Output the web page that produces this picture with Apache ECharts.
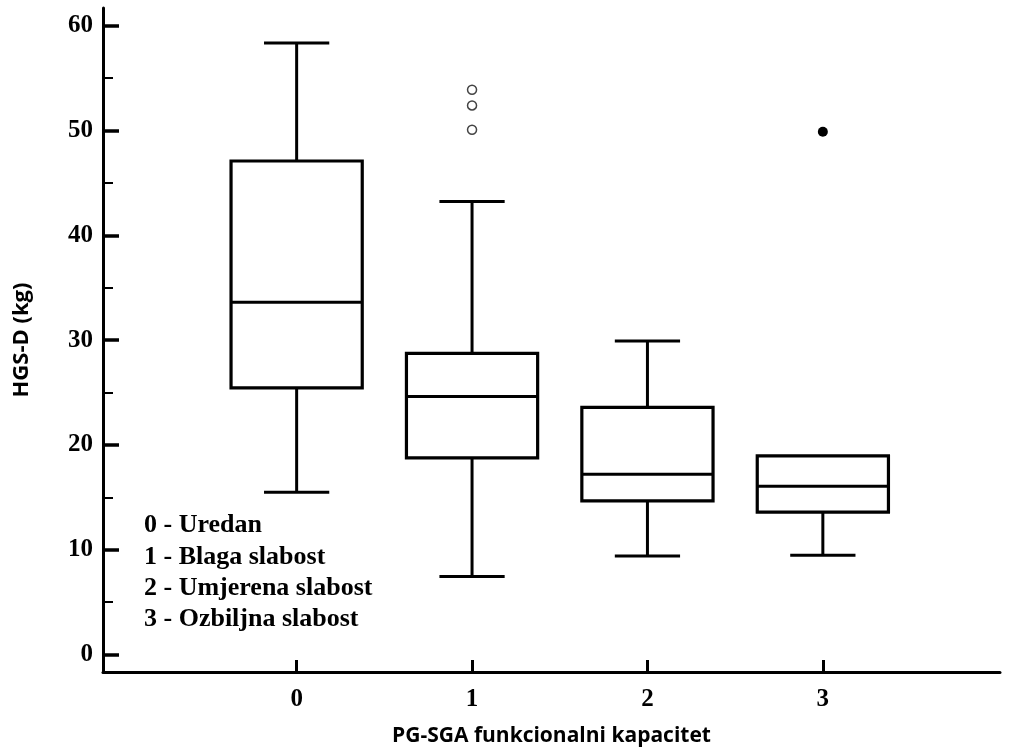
<!DOCTYPE html>
<html>
<head>
<meta charset="utf-8">
<script src="https://cdn.jsdelivr.net/npm/echarts@6/dist/echarts.min.js"></script>
<style>html,body{margin:0;padding:0;background:#fff;}#chart{width:1009px;height:749px;}</style>
</head>
<body>
<div id="chart"></div>
<script>
// Data
var groups = [0, 1, 2, 3];
var minVals = [15.5, 7.45, 9.42, 9.48];
var q1Vals = [25.45, 18.78, 14.67, 13.59];
var medianVals = [33.62, 24.64, 17.22, 16.07];
var q3Vals = [47.1, 28.75, 23.59, 18.97];
var maxVals = [58.35, 43.23, 29.92, 18.97];
var outsideX = [1, 1, 1];
var outsideY = [53.9, 52.4, 50.08];
var farOutX = [3];
var farOutY = [49.9];
var yTickValues = [0, 10, 20, 30, 40, 50, 60];
var yMinorTickValues = [5, 15, 25, 35, 45, 55];
var legendLines = ['0 - Uredan', '1 - Blaga slabost', '2 - Umjerena slabost', '3 - Ozbiljna slabost'];
var xTitle = 'PG-SGA funkcionalni kapacitet';
var yTitle = 'HGS-D (kg)';

var boxData = groups.map(function (g, i) {
  return [g, minVals[i], q1Vals[i], medianVals[i], q3Vals[i], maxVals[i]];
});
var outsideData = outsideX.map(function (x, i) { return [x, outsideY[i]]; });
var farOutData = farOutX.map(function (x, i) { return [x, farOutY[i]]; });

var serif = '"Liberation Serif", "Times New Roman", serif';
var sans = '"Open Sans", "DejaVu Sans", sans-serif';
var BOX_HALF = 0.374;
var CAP_HALF = 0.186;

function renderBox(params, api) {
  var x = api.value(0);
  var vmin = api.value(1), vq1 = api.value(2), vmed = api.value(3), vq3 = api.value(4), vmax = api.value(5);
  var lt = api.coord([x - BOX_HALF, vq3]);
  var rb = api.coord([x + BOX_HALF, vq1]);
  var cTop = api.coord([x, vmax]);
  var cQ3 = api.coord([x, vq3]);
  var cQ1 = api.coord([x, vq1]);
  var cBot = api.coord([x, vmin]);
  var mL = api.coord([x - BOX_HALF, vmed]);
  var mR = api.coord([x + BOX_HALF, vmed]);
  var capL = api.coord([x - CAP_HALF, vmax])[0];
  var capR = api.coord([x + CAP_HALF, vmax])[0];
  var st = { stroke: '#000', lineWidth: 3, fill: null };
  var children = [];
  if (vmax > vq3) {
    children.push({ type: 'line', shape: { x1: cTop[0], y1: cTop[1], x2: cQ3[0], y2: cQ3[1] }, style: st });
    children.push({ type: 'line', shape: { x1: capL, y1: cTop[1], x2: capR, y2: cTop[1] }, style: st });
  }
  if (vmin < vq1) {
    children.push({ type: 'line', shape: { x1: cQ1[0], y1: cQ1[1], x2: cBot[0], y2: cBot[1] }, style: st });
    children.push({ type: 'line', shape: { x1: capL, y1: cBot[1], x2: capR, y2: cBot[1] }, style: st });
  }
  children.push({ type: 'rect', shape: { x: lt[0], y: lt[1], width: rb[0] - lt[0], height: rb[1] - lt[1] }, style: { stroke: '#000', lineWidth: 3.2, fill: '#fff' } });
  children.push({ type: 'line', shape: { x1: mL[0], y1: mL[1], x2: mR[0], y2: mR[1] }, style: st });
  return { type: 'group', children: children };
}

var chart = echarts.init(document.getElementById('chart'));
var option = {
  backgroundColor: '#fff',
  animation: false,
  grid: { left: 103, right: 9, top: 8, bottom: 77, containLabel: false, outerBoundsMode: 'none' },
  xAxis: {
    type: 'value',
    min: -1.104,
    max: 4.01,
    name: xTitle,
    nameLocation: 'middle',
    nameGap: 54,
    nameTextStyle: { fontFamily: sans, fontWeight: 'bold', fontSize: 21, color: '#000' },
    axisLine: { show: true, onZero: false, lineStyle: { color: '#000', width: 3 } },
    axisTick: { show: true, inside: true, length: 12, customValues: groups, lineStyle: { color: '#000', width: 3 } },
    axisLabel: { customValues: groups, margin: 15, fontFamily: serif, fontWeight: 'bold', fontSize: 25, color: '#000' },
    splitLine: { show: false }
  },
  yAxis: [{
    type: 'value',
    min: -1.66,
    max: 61.7,
    name: yTitle,
    nameLocation: 'middle',
    nameRotate: 90,
    nameGap: 70,
    nameTextStyle: { fontFamily: sans, fontWeight: 'bold', fontSize: 22, color: '#000' },
    axisLine: { show: true, onZero: false, lineStyle: { color: '#000', width: 3 } },
    axisTick: { show: true, inside: true, length: 16, customValues: yTickValues, lineStyle: { color: '#000', width: 3.5 } },
    axisLabel: { customValues: yTickValues, margin: 10, fontFamily: serif, fontWeight: 'bold', fontSize: 25, color: '#000' },
    splitLine: { show: false }
  }, {
    type: 'value',
    position: 'left',
    min: -1.66,
    max: 61.7,
    axisLine: { show: false, onZero: false },
    axisTick: { show: true, inside: true, length: 10, customValues: yMinorTickValues, lineStyle: { color: '#000', width: 2 } },
    axisLabel: { show: false },
    splitLine: { show: false }
  }],
  graphic: [{
    type: 'text',
    left: 144,
    top: 510,
    style: {
      text: legendLines.join('\n'),
      fontFamily: serif,
      fontWeight: 'bold',
      fontSize: 26,
      lineHeight: 31.3,
      fill: '#000'
    }
  }],
  series: [{
    type: 'custom',
    renderItem: renderBox,
    data: boxData,
    encode: { x: 0, y: [1, 2, 3, 4, 5] },
    z: 2
  }, {
    type: 'scatter',
    data: outsideData,
    symbol: 'circle',
    symbolSize: 9,
    itemStyle: { color: '#fff', borderColor: '#444', borderWidth: 1.5, opacity: 1 },
    z: 3
  }, {
    type: 'scatter',
    data: farOutData,
    symbol: 'circle',
    symbolSize: 10,
    itemStyle: { color: '#000', opacity: 1 },
    z: 3
  }]
};
chart.setOption(option);
</script>
</body>
</html>
